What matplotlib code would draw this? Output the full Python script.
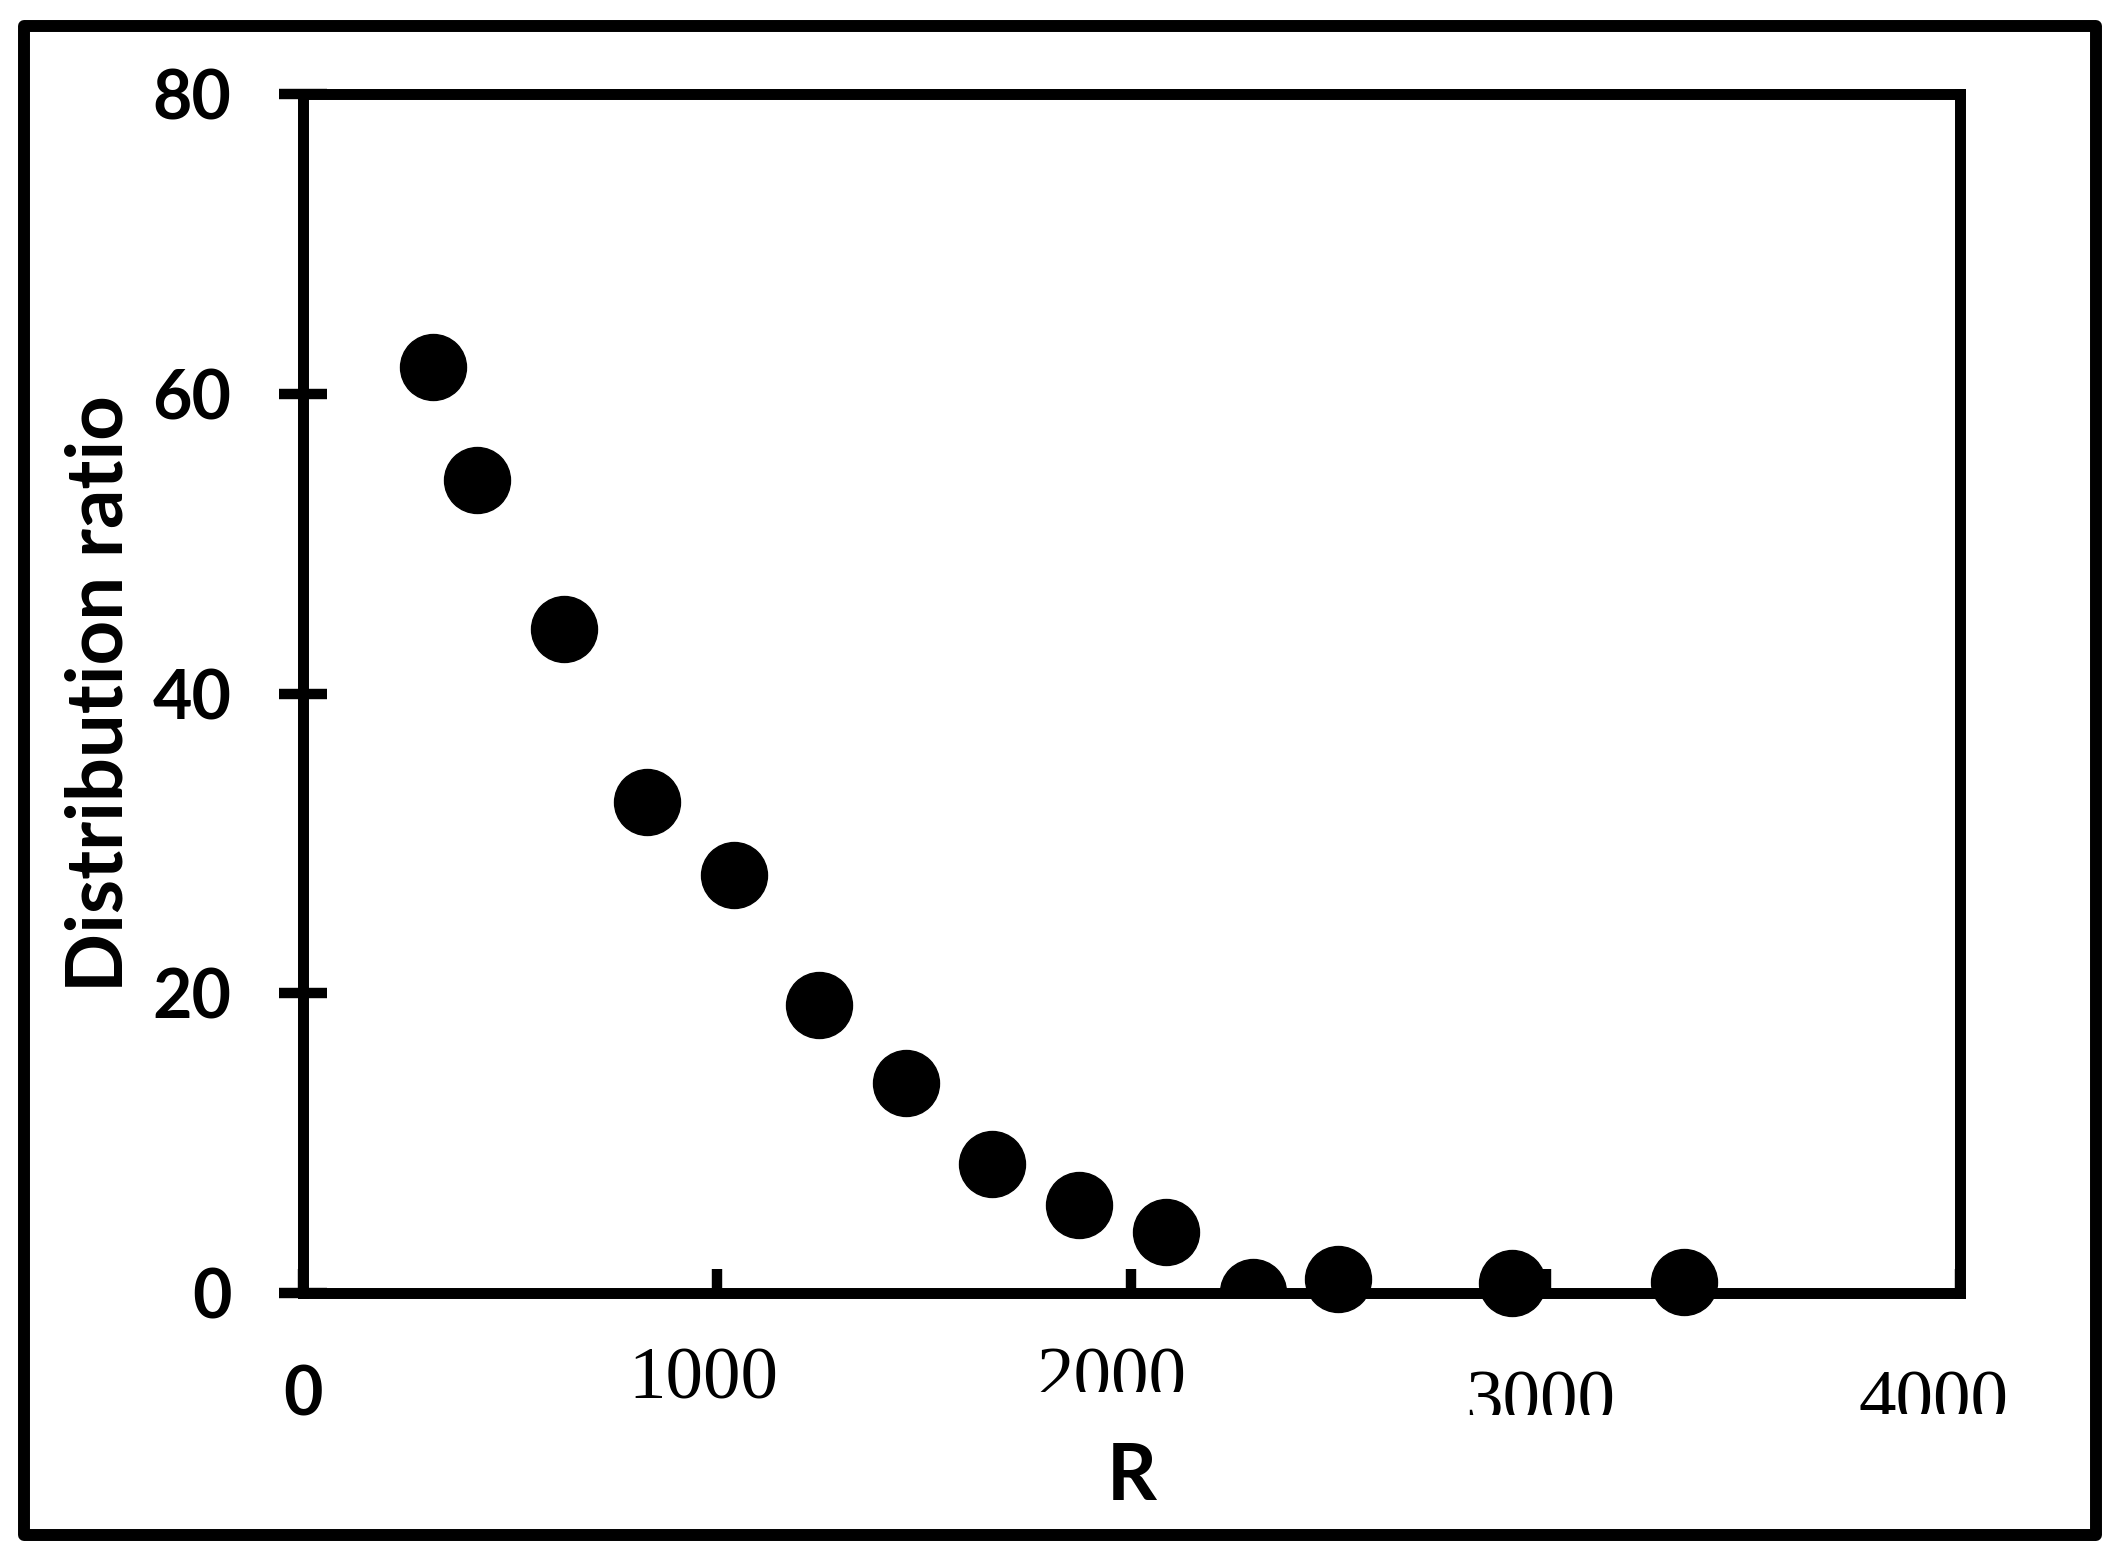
import matplotlib
matplotlib.use('Agg')
import matplotlib.pyplot as plt
import matplotlib.patches as patches
import matplotlib.transforms as mtransforms
import numpy as np

# values
r_values = [314, 419, 629, 831, 1040, 1246, 1455, 1664, 1874, 2083,
            2293, 2499, 2918, 3335]
ratio_values = [61.8, 54.3, 44.3, 32.8, 27.9, 19.2, 14.0, 8.6, 5.9, 4.05,
                0.1, 0.95, 0.65, 0.75]

y_ticks = [0, 20, 40, 60, 80]
x_ticks = [0, 1000, 2000, 3000, 4000]
x_tick_labels = ['0', '1000', '2000', '3000', '4000']

# in the original one marker is cut by the axis line
clipped_index = 10

plt.rcParams['font.family'] = ['Lato', 'DejaVu Sans']
plt.rcParams['font.weight'] = 'bold'

fig = plt.figure(figsize=(21.23, 15.59), dpi=100)
ax = fig.add_axes([0.1427, 0.1706, 0.7805, 0.7688])

x = np.array(r_values)
y = np.array(ratio_values)
cut = np.zeros(len(x), dtype=bool)
cut[clipped_index] = True
ax.plot(x[~cut], y[~cut], 'o', ms=47.5, color='black', mec='black',
        clip_on=False, zorder=3)
ax.plot(x[cut], y[cut], 'o', ms=47.5, color='black', mec='black',
        clip_on=True, zorder=3)

ax.set_xlim(0, 4000)
ax.set_ylim(0, 80)
for spine in ax.spines.values():
    spine.set_linewidth(7.9)
    spine.set_color('black')

ax.set_yticks(y_ticks)
ax.set_yticklabels([str(v) for v in y_ticks])
ax.tick_params(axis='y', direction='inout', length=35, width=7.5, pad=34,
               labelsize=49, colors='black')

ax.set_xticks(x_ticks)
ax.set_xticks([x_ticks[0], x_ticks[3], x_ticks[4]], minor=True)
ax.tick_params(axis='x', which='major', direction='in', length=17, width=7.5,
               labelbottom=False)
ax.tick_params(axis='x', which='minor', direction='out', length=17, width=7.5,
               labelbottom=False)

# x tick labels: mixed fonts, shifted and partly cut like the original
label_fonts = ['Lato', 'Liberation Serif', 'Liberation Serif',
               'Liberation Serif', 'Liberation Serif']
label_weights = ['bold', 'normal', 'normal', 'normal', 'normal']
label_sizes = [49, 54, 54, 54, 54]
label_dx = [0, -14, -20, -6, -26]          # pixels
label_dy = [-71, -54, -54, -77, -77]       # pixels from axis line
label_cut = [None, None, 1392, 1415, 1414]  # pixel row where text is cut
H = 1559.0
for val, txt, fam, wgt, size, dx, dy, cy in zip(
        x_ticks, x_tick_labels, label_fonts, label_weights, label_sizes,
        label_dx, label_dy, label_cut):
    trans = mtransforms.offset_copy(ax.get_xaxis_transform(), fig=fig,
                                    x=dx, y=dy, units='dots')
    t = fig.text(val, 0, txt, transform=trans, ha='center', va='top',
                 fontsize=size, fontweight=wgt, family=[fam, 'DejaVu Sans'],
                 color='black')
    if cy is not None:
        box = mtransforms.TransformedBbox(
            mtransforms.Bbox.from_extents(0, (H - cy) / H, 1, 1),
            fig.transFigure)
        t.set_clip_box(box)
        t.set_clip_on(True)

ax.set_ylabel('Distribution ratio', fontsize=56, fontweight='bold',
              va='baseline')
ax.yaxis.set_label_coords(-0.1092, 0.5)
ax.set_xlabel('R', fontsize=56, fontweight='bold', va='baseline')
ax.xaxis.set_label_coords(0.5, -0.1727)

# outer frame around the whole picture
frame = patches.Rectangle((0.01154, 0.01539), 0.97551, 0.96793,
                          transform=fig.transFigure, fill=False,
                          linewidth=8.6, edgecolor='black',
                          joinstyle='round')
fig.patches.append(frame)

fig.savefig('out.png', dpi=100, facecolor='white')
